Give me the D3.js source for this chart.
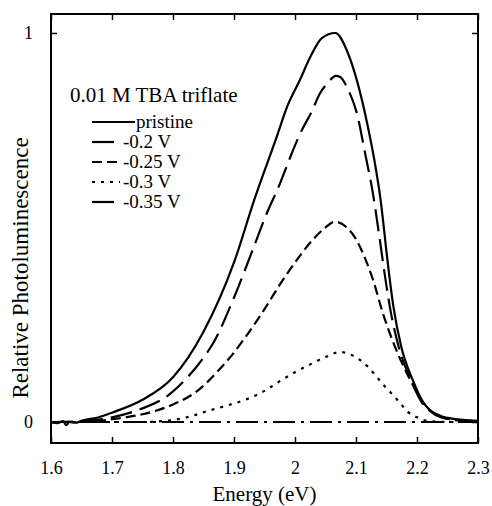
<!DOCTYPE html>
<html>
<head>
<meta charset="utf-8">
<script src="https://cdn.jsdelivr.net/npm/d3@7"></script>
<style>
  html, body { margin: 0; padding: 0; background: #fff; }
  svg { display: block; }
</style>
</head>
<body>
<svg id="chart" width="492" height="506"></svg>
<script>
// ---- data ----
const energyPristine = [1.60,1.61,1.62,1.625,1.63,1.64,1.65,1.68,1.70,1.75,1.80,1.85,1.90,1.934,1.97,1.987,2.008,2.025,2.044,2.066,2.085,2.102,2.118,2.131,2.14,2.152,2.161,2.174,2.193,2.21,2.221,2.24,2.26,2.28,2.30];
const pristine       = [0,-0.003,0.002,-0.008,0,-0.002,0.003,0.013,0.024,0.057,0.115,0.232,0.41,0.575,0.733,0.81,0.879,0.938,0.987,1.0,0.955,0.875,0.77,0.665,0.575,0.41,0.30,0.195,0.108,0.051,0.031,0.015,0.008,0.005,0.003];

const energyV020 = [1.60,1.65,1.70,1.75,1.79,1.816,1.849,1.866,1.90,1.93,1.956,1.972,1.992,2.008,2.028,2.041,2.054,2.067,2.074,2.087,2.102,2.115,2.128,2.138,2.148,2.157,2.170,2.190,2.208,2.22,2.24,2.27,2.30];
const v020       = [0,0.002,0.012,0.035,0.066,0.102,0.163,0.203,0.32,0.44,0.545,0.60,0.68,0.74,0.80,0.845,0.872,0.89,0.887,0.855,0.79,0.69,0.585,0.48,0.37,0.283,0.193,0.108,0.05,0.03,0.012,0.005,0.002];

const energyV025 = [1.60,1.65,1.70,1.75,1.78,1.80,1.844,1.872,1.893,1.915,1.95,1.978,2.0,2.03,2.05,2.065,2.085,2.10,2.115,2.128,2.144,2.164,2.189,2.21,2.23,2.26,2.30];
const v025       = [0,0,0.007,0.02,0.033,0.045,0.085,0.128,0.165,0.21,0.29,0.36,0.41,0.47,0.5,0.515,0.50,0.47,0.42,0.365,0.28,0.193,0.108,0.05,0.02,0.005,0];

const energyV030 = [1.60,1.70,1.75,1.80,1.83,1.856,1.89,1.92,1.95,1.975,2.0,2.03,2.05,2.074,2.09,2.107,2.12,2.134,2.148,2.161,2.172,2.185,2.2,2.22,2.25,2.30];
const v030       = [0,0,0,0.005,0.015,0.028,0.043,0.058,0.08,0.105,0.128,0.152,0.167,0.18,0.174,0.159,0.141,0.116,0.09,0.069,0.049,0.026,0.012,0.002,0,0];

const energyV035 = [1.60,1.80,2.00,2.20,2.30];
const v035       = [0,0,0,0,0];

const xTicks = [1.6,1.7,1.8,1.9,2,2.1,2.2,2.3];
const xTickLabels = ["1.6","1.7","1.8","1.9","2","2.1","2.2","2.3"];
const yTicks = [0,1];
const yTickLabels = ["0","1"];

const seriesNames = ["pristine","-0.2 V","-0.25 V","-0.3 V","-0.35 V"];
const legendTitle = "0.01 M TBA triflate";
const xTitle = "Energy (eV)";
const yTitle = "Relative Photoluminescence";

// ---- layout ----
const FONT = '"Liberation Serif", "Times New Roman", serif';
const svg = d3.select("#chart");
const L = 51, R = 478, T = 14, B = 443;
const x = d3.scaleLinear().domain([1.6, 2.3]).range([L, R]);
const y = d3.scaleLinear().domain([-0.054, 1.0488]).range([B, T]);

const series = [
  {name: seriesNames[0], e: energyPristine, v: pristine, dash: null},
  {name: seriesNames[1], e: energyV020, v: v020, dash: "22,8"},
  {name: seriesNames[2], e: energyV025, v: v025, dash: "10,5"},
  {name: seriesNames[3], e: energyV030, v: v030, dash: "3,6"},
  {name: seriesNames[4], e: energyV035, v: v035, dash: "22,6,3,6"}
];

const line = d3.line().x(d => x(d[0])).y(d => y(d[1])).curve(d3.curveMonotoneX);

svg.append("defs").append("clipPath").attr("id","clip")
  .append("rect").attr("x", L).attr("y", T).attr("width", R-L).attr("height", B-T);

const curves = svg.append("g").attr("clip-path","url(#clip)");
series.slice().reverse().forEach(s => {
  curves.append("path")
    .datum(s.e.map((e,i) => [e, s.v[i]]))
    .attr("d", line)
    .attr("fill","none")
    .attr("stroke","#000")
    .attr("stroke-width", 2.2)
    .attr("stroke-dasharray", s.dash);
});

// axes (ticks inward, frame)
const tickLen = 6;
const axBottom = d3.axisBottom(x).tickValues(xTicks).tickSize(-tickLen).tickFormat((d,i)=>xTickLabels[i]).tickPadding(18);
const axTop = d3.axisTop(x).tickValues(xTicks).tickSize(-tickLen).tickFormat("");
const axLeft = d3.axisLeft(y).tickValues(yTicks).tickSize(-tickLen).tickFormat((d,i)=>yTickLabels[i]).tickPadding(18);
const axRight = d3.axisRight(y).tickValues(yTicks).tickSize(-tickLen).tickFormat("");

function styleAxis(g){
  g.select(".domain").remove();
  g.selectAll(".tick line").attr("stroke","#000").attr("stroke-width",1.5);
  g.selectAll(".tick text").attr("fill","#000")
    .style("font-family", FONT, "important").style("font-size","18px","important");
}
svg.append("g").attr("transform",`translate(0,${B})`).call(axBottom).call(styleAxis);
svg.append("g").attr("transform",`translate(0,${T})`).call(axTop).call(styleAxis);
svg.append("g").attr("transform",`translate(${L},0)`).call(axLeft).call(styleAxis);
svg.append("g").attr("transform",`translate(${R},0)`).call(axRight).call(styleAxis);

svg.append("rect").attr("x",L).attr("y",T).attr("width",R-L).attr("height",B-T)
  .attr("fill","none").attr("stroke","#000").attr("stroke-width",2);

function txt(parent, s, size){
  return parent.append("text").text(s).attr("fill","#000")
    .style("font-family", FONT, "important").style("font-size", size + "px", "important");
}

// titles
txt(svg, xTitle, 21).attr("x",(L+R)/2).attr("y",501).attr("text-anchor","middle");
txt(svg, yTitle, 23).attr("transform","translate(28,268) rotate(-90)").attr("text-anchor","middle");

// legend
txt(svg, legendTitle, 21).attr("x",70).attr("y",102);
series.forEach((s,i) => {
  const by = 128 + i*20;
  const x2 = i === 0 ? 135 : 120;
  svg.append("line").attr("x1",92).attr("x2",x2).attr("y1",by-6).attr("y2",by-6)
    .attr("stroke","#000").attr("stroke-width",2.2).attr("stroke-dasharray", s.dash);
  txt(svg, s.name, 19).attr("x", i === 0 ? 136 : 123).attr("y",by);
});
</script>
</body>
</html>
